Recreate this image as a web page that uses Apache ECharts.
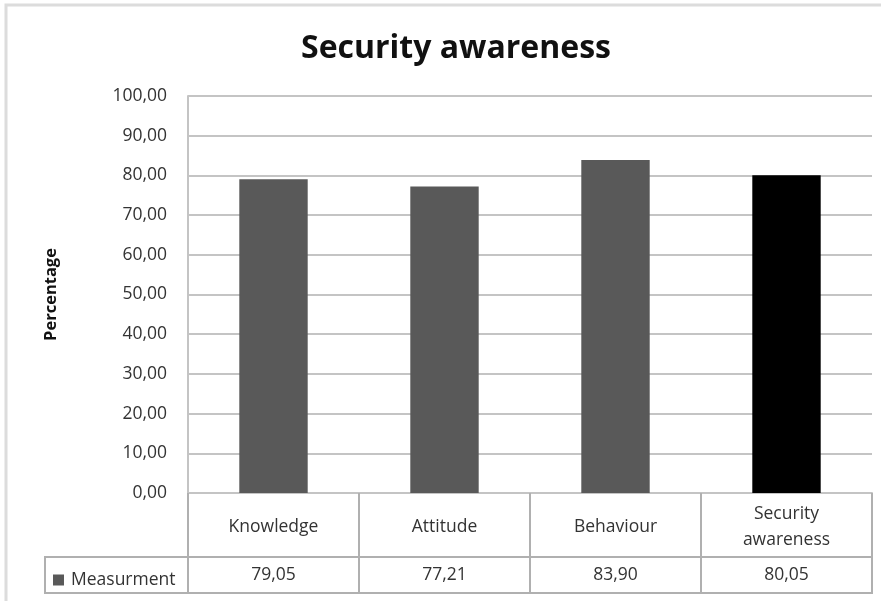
<!DOCTYPE html>
<html>
<head>
<meta charset="utf-8">
<title>Security awareness</title>
<script src="https://cdn.jsdelivr.net/npm/echarts@6/dist/echarts.min.js"></script>
<style>
  html, body { margin: 0; padding: 0; background: #fff; }
  #chart { width: 881px; height: 601px; }
</style>
</head>
<body>
<div id="chart"></div>
<script>
// Measured scores per dimension
const categories = ['Knowledge', 'Attitude', 'Behaviour', 'Security\nawareness'];
const measurement = [79.05, 77.21, 83.90, 80.05];
const seriesName = 'Measurment';
const yTicks = { min: 0, max: 100, interval: 10 };

const fmt = v => v.toFixed(2).replace('.', ',');

const FONT = '"Open Sans", "Noto Sans", sans-serif';
const TEXT = '#333';
const LINE = '#c4c4c4';
const LABEL_SIZE = 17.5;

const chart = echarts.init(document.getElementById('chart'), null, { renderer: 'canvas' });

const option = {
  animation: false,
  backgroundColor: '#fff',
  title: {
    text: 'Security awareness',
    left: 451,
    textAlign: 'center',
    top: 28,
    textStyle: { fontFamily: FONT, fontSize: 32, fontWeight: 'bold', color: '#111' }
  },
  legend: {
    left: 48,
    top: 566,
    icon: 'rect',
    itemWidth: 11,
    itemHeight: 11,
    data: [seriesName],
    textStyle: { fontFamily: FONT, fontSize: LABEL_SIZE, color: TEXT, padding: [0, 0, 0, 2] }
  },
  grid: { left: 188, right: 9, top: 96, bottom: 108, containLabel: false },
  xAxis: [
    {
      type: 'category',
      data: categories,
      boundaryGap: true,
      axisLine: { show: true, lineStyle: { color: LINE, width: 2 } },
      axisTick: { show: true, length: 100, lineStyle: { color: '#b0b0b0', width: 2 } },
      axisLabel: {
        margin: 34,
        verticalAlign: 'middle',
        lineHeight: 26,
        fontFamily: FONT, fontSize: LABEL_SIZE, color: TEXT
      }
    },
    {
      type: 'category',
      position: 'bottom',
      offset: 64,
      data: measurement.map(fmt),
      axisLine: { show: false },
      axisTick: { show: false },
      axisLabel: {
        margin: 18,
        verticalAlign: 'middle',
        fontFamily: FONT, fontSize: LABEL_SIZE, color: TEXT
      }
    }
  ],
  yAxis: {
    type: 'value',
    min: yTicks.min,
    max: yTicks.max,
    interval: yTicks.interval,
    name: 'Percentage',
    nameLocation: 'middle',
    nameGap: 128,
    nameRotate: 90,
    nameTextStyle: { fontFamily: FONT, fontSize: 16.5, fontWeight: 'bold', color: '#111' },
    axisLine: { show: true, lineStyle: { color: LINE, width: 2 } },
    axisTick: { show: false },
    axisLabel: {
      margin: 21,
      formatter: v => fmt(v),
      fontFamily: FONT, fontSize: LABEL_SIZE, color: TEXT
    },
    splitLine: { show: true, lineStyle: { color: LINE, width: 2 } }
  },
  series: [
    {
      name: seriesName,
      type: 'bar',
      xAxisIndex: 0,
      barWidth: '40%',
      itemStyle: { color: '#595959' },
      data: measurement.map((v, i) =>
        i === measurement.length - 1 ? { value: v, itemStyle: { color: '#000' } } : v)
    }
  ]
};

chart.setOption(option);

// Data-table frame below the plot, placed from the axis scales
function drawTable() {
  const c0 = chart.convertToPixel({ xAxisIndex: 0 }, 0);
  const step = chart.convertToPixel({ xAxisIndex: 0 }, 1) - c0;
  const x0 = c0 - step / 2;
  const x1 = x0 + step * categories.length;
  const yBase = chart.convertToPixel({ yAxisIndex: 0 }, 0);
  const rowTop = yBase + 64;
  const rowBottom = yBase + 100;
  const legendLeft = 45;
  const ls = { stroke: '#b0b0b0', lineWidth: 2 };
  chart.setOption({
    graphic: [
      { type: 'rect', shape: { x: 6, y: 5, width: 900, height: 700 },
        style: { fill: 'none', stroke: '#dcdcdc', lineWidth: 3 }, silent: true },
      { type: 'line', shape: { x1: legendLeft, y1: rowTop, x2: x1 + 1, y2: rowTop }, style: ls },
      { type: 'line', shape: { x1: legendLeft, y1: rowBottom, x2: x1 + 1, y2: rowBottom }, style: ls },
      { type: 'line', shape: { x1: legendLeft, y1: rowTop - 1, x2: legendLeft, y2: rowBottom + 1 }, style: ls }
    ]
  });
}
drawTable();
</script>
</body>
</html>
